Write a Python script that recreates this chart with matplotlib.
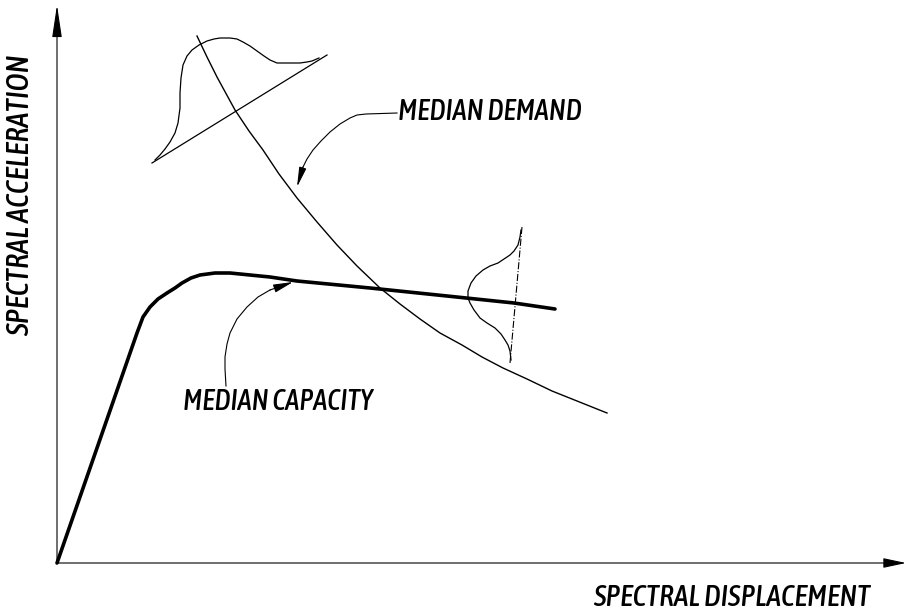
import matplotlib
matplotlib.use("Agg")
import matplotlib.pyplot as plt
from matplotlib import font_manager as fm

# ---- data (schematic, origin at the axes corner) ----
cap_x = [0, 80, 86, 93, 101, 110, 118, 125, 134, 143, 158, 173, 193, 213, 240, 313, 390, 457, 498]
cap_y = [0, 230, 246, 256, 264, 270, 275, 280, 285, 288, 290, 290, 288, 286, 282, 275, 267, 260, 254]

dem_x = [140, 150, 160, 178, 192, 206, 222, 240, 260, 280, 300, 323, 343, 363, 383, 405, 425, 446, 470, 495, 520, 550]
dem_y = [527, 506, 486, 453, 432, 413, 389, 365, 341, 318, 297, 275, 259, 244, 230, 218, 206, 195, 184, 172, 162, 150]

# upper distribution (on demand curve)
up_base_x = [95, 270]
up_base_y = [400, 508]
up_bell_x = [98, 103, 108, 113, 118, 121, 123, 123, 124, 126, 130, 135, 142, 150, 157, 163, 173, 180, 186, 193, 200, 207, 213, 220, 226, 235, 243, 250, 255, 262]
up_bell_y = [403, 408, 414, 421, 430, 440, 455, 470, 485, 498, 507, 513, 518, 522, 524, 525, 525, 524, 521, 517, 512, 507, 503, 500, 500, 500, 500, 501, 502, 505]

# right distribution (on capacity curve)
rt_base_x = [465, 453]
rt_base_y = [336, 200]
rt_bell_x = [464, 463, 461, 457, 453, 447, 441, 433, 426, 419, 414, 411, 411, 413, 417, 423, 430, 438, 444, 448, 451, 453, 454]
rt_bell_y = [333, 326, 318, 312, 308, 304, 300, 297, 293, 287, 280, 272, 265, 260, 253, 245, 240, 235, 229, 223, 218, 212, 203]

# annotation leader lines
dem_lead_x = [340, 309, 300, 293, 283, 273, 264, 256, 250, 246]
dem_lead_y = [450, 449, 448, 445, 439, 431, 422, 413, 404, 396]
dem_tip = (240, 376)
cap_lead_x = [169, 168, 168, 170, 173, 180, 190, 201, 213]
cap_lead_y = [177, 194, 206, 219, 230, 244, 256, 266, 273]
cap_tip = (236, 281)

x_axis_end = 849
y_axis_end = 558

# pick a condensed / narrow italic face if one is installed (prefer medium weight)
def _w(w):
    if isinstance(w, int):
        return w
    return {'normal': 400, 'regular': 400, 'book': 400, 'medium': 500}.get(str(w).lower(), 700)

cands = []
for f in fm.fontManager.ttflist:
    n = (f.fname + ' ' + f.name).lower()
    if ('condensed' in n or 'narrow' in n) and f.style in ('italic', 'oblique'):
        w = _w(f.weight)
        if 400 <= w <= 500 and 'light' not in n and 'thin' not in n and 'semi' not in n:
            cands.append((-w, f.fname))
cands.sort()
if cands:
    fp_base = fm.FontProperties(fname=cands[0][1])
else:
    fp_base = fm.FontProperties(family=['Liberation Sans', 'DejaVu Sans'], style='italic')

fig = plt.figure(figsize=(9.09, 6.16), dpi=100)
ax = fig.add_axes([0, 0, 1, 1])
ax.set_xlim(-57, 852)
ax.set_ylim(-53, 563)
ax.axis('off')

# axes with arrows
ax.annotate('', xy=(0, y_axis_end), xytext=(0, 0),
            arrowprops=dict(arrowstyle='-|>,head_length=2.0,head_width=0.3',
                            mutation_scale=10, lw=0.8, color='black', shrinkA=0, shrinkB=0))
ax.annotate('', xy=(x_axis_end, 0), xytext=(0, 0),
            arrowprops=dict(arrowstyle='-|>,head_length=1.4,head_width=0.3',
                            mutation_scale=10, lw=0.8, color='black', shrinkA=0, shrinkB=0))

# curves
ax.plot(cap_x, cap_y, color='black', lw=2.6, solid_joinstyle='round', solid_capstyle='round')
ax.plot(dem_x, dem_y, color='black', lw=1.0, solid_joinstyle='round')

# distributions
ax.plot(up_base_x, up_base_y, color='black', lw=0.9)
ax.plot(up_bell_x, up_bell_y, color='black', lw=0.9, solid_joinstyle='round')
ax.plot(rt_base_x, rt_base_y, color='black', lw=0.8, ls='-.')
ax.plot(rt_bell_x, rt_bell_y, color='black', lw=0.9, solid_joinstyle='round')

# leaders
ax.plot(dem_lead_x, dem_lead_y, color='black', lw=0.8, solid_joinstyle='round')
ax.annotate('', xy=dem_tip, xytext=(dem_lead_x[-1], dem_lead_y[-1]),
            arrowprops=dict(arrowstyle='-|>,head_length=1.2,head_width=0.22',
                            mutation_scale=10, lw=0.8, color='black', shrinkA=0, shrinkB=0))
ax.plot(cap_lead_x, cap_lead_y, color='black', lw=0.8, solid_joinstyle='round')
ax.annotate('', xy=cap_tip, xytext=(cap_lead_x[-1], cap_lead_y[-1]),
            arrowprops=dict(arrowstyle='-|>,head_length=1.2,head_width=0.25',
                            mutation_scale=10, lw=0.8, color='black', shrinkA=0, shrinkB=0))

# texts, sized so their length matches the reference
labels = [
    ('MEDIAN DEMAND', 341, 452, 'left', 0, 184),
    ('MEDIAN CAPACITY', 126, 161, 'left', 0, 190),
    ('SPECTRAL DISPLACEMENT', 813, -34, 'right', 0, 277),
    ('SPECTRAL ACCELERATION', -36, 368, 'center', 90, 292),
]
renderer = fig.canvas.get_renderer()
for s, x, y, ha, rot, target in labels:
    fp = fp_base.copy()
    fp.set_size(20)
    t = ax.text(x, y, s, ha=ha, va='center', rotation=rot, fontproperties=fp, color='black')
    bb = t.get_window_extent(renderer)
    length = bb.height if rot else bb.width
    size = min(22, 20 * target / length)
    t.set_fontsize(size)

fig.savefig('out.png', dpi=100)
